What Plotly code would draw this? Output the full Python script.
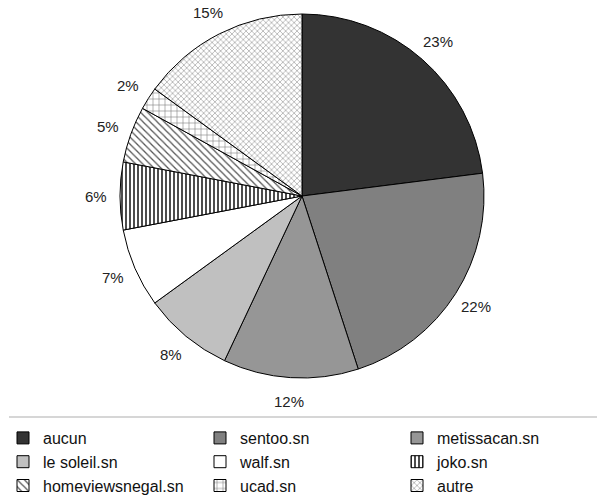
import math
import plotly.graph_objects as go

labels = ["aucun", "sentoo.sn", "metissacan.sn", "le soleil.sn", "walf.sn",
          "joko.sn", "homeviewsnegal.sn", "ucad.sn", "autre"]
values = [23, 22, 12, 8, 7, 6, 5, 2, 15]
colors = ["#333333", "#808080", "#969696", "#c0c0c0", "#ffffff",
          "#ffffff", "#ffffff", "#ffffff", "#ffffff"]
patterns = ["", "", "", "", "", "|", "\\", "+", "x"]
pat_fg = ["#000000", "#000000", "#000000", "#000000", "#000000",
          "#000000", "#555555", "#777777", "#999999"]
pat_size = [5, 5, 5, 5, 5, 4, 5, 6, 4]
pat_sol = [0.3, 0.3, 0.3, 0.3, 0.3, 0.35, 0.25, 0.18, 0.3]

W, H = 597, 502
cx, cy, r = 302, 196, 182
label_r = 206

fig = go.Figure()
fig.add_trace(go.Pie(
    labels=labels, values=values, sort=False, direction="clockwise", rotation=0,
    marker=dict(colors=colors, line=dict(color="#000000", width=1),
                pattern=dict(shape=patterns, fgcolor=pat_fg, bgcolor="#ffffff",
                             size=pat_size, solidity=pat_sol)),
    textinfo="none", hoverinfo="label+percent",
    domain=dict(x=[(cx - r) / W, (cx + r) / W], y=[1 - (cy + r) / H, 1 - (cy - r) / H]),
    automargin=False,
))

# percentage labels placed outside each slice, at the slice mid-angle
total = sum(values)
annotations = []
cum = 0
for v in values:
    mid = (cum + v / 2) / total * 2 * math.pi
    cum += v
    px = cx + label_r * math.sin(mid)
    py = cy - label_r * math.cos(mid)
    annotations.append(dict(
        x=px / W, y=1 - py / H, xref="paper", yref="paper",
        text=f"{round(100 * v / total)}%", showarrow=False,
        xanchor="center", yanchor="middle",
        font=dict(family="Liberation Sans, Arial, sans-serif", size=15, color="#222222"),
    ))

fig.update_layout(
    width=W, height=H, margin=dict(l=0, r=0, t=0, b=0, autoexpand=False),
    paper_bgcolor="#ffffff", plot_bgcolor="#ffffff",
    showlegend=True,
    legend=dict(orientation="h", x=3 / W, xanchor="left", y=1 - 421 / H, yanchor="top",
                entrywidth=152, entrywidthmode="pixels", itemwidth=30,
                font=dict(family="Liberation Sans, Arial, sans-serif", size=16, color="#111111"),
                traceorder="normal"),
    annotations=annotations,
    shapes=[dict(type="line", xref="paper", yref="paper", x0=9 / W, x1=1,
                 y0=1 - 417 / H, y1=1 - 417 / H, line=dict(color="#d6d6d6", width=2))],
)

fig.write_html("out.html")
